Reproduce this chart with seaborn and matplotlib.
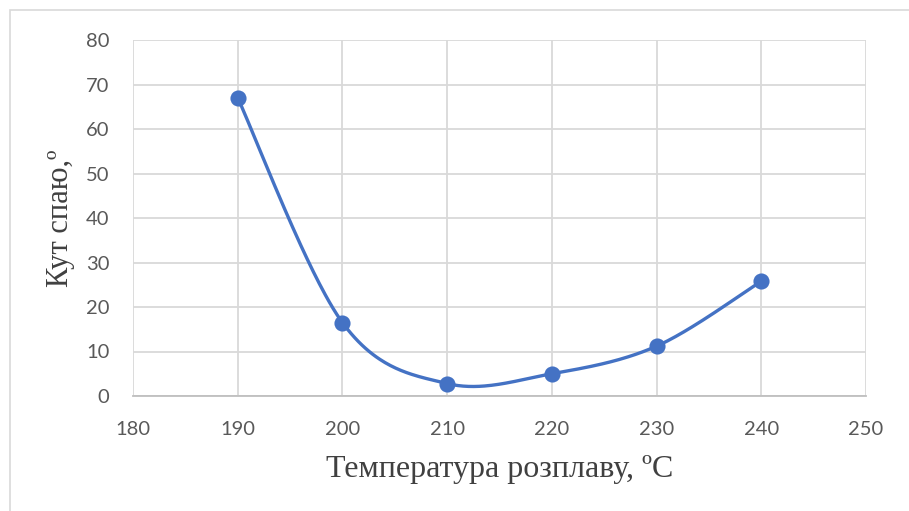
import numpy as np
import matplotlib
matplotlib.use("Agg")
import matplotlib.pyplot as plt
import seaborn as sns
from matplotlib.patches import Rectangle

# data
temperature = [190, 200, 210, 220, 230, 240]
angle = [67.0, 16.5, 2.8, 5.0, 11.2, 25.8]
x_ticks = [180, 190, 200, 210, 220, 230, 240, 250]
y_ticks = [0, 10, 20, 30, 40, 50, 60, 70, 80]
x_title = "Температура розплаву, ºC"
y_title = "Кут спаю,º"

LINE = "#4472C4"
GRID = "#D9D9D9"
TICK = "#595959"


def smooth(xs, ys, n=60):
    """Excel-like smoothed line (Catmull-Rom cubic Bezier) through the points."""
    p = np.column_stack([xs, ys]).astype(float)
    p_ext = np.vstack([p[0], p, p[-1]])
    out = []
    t = np.linspace(0, 1, n)[:, None]
    for i in range(1, len(p_ext) - 2):
        p0, p1, p2, p3 = p_ext[i - 1], p_ext[i], p_ext[i + 1], p_ext[i + 2]
        c1 = p1 + (p2 - p0) / 6.0
        c2 = p2 - (p3 - p1) / 6.0
        seg = ((1 - t) ** 3) * p1 + 3 * ((1 - t) ** 2) * t * c1 + 3 * (1 - t) * t ** 2 * c2 + t ** 3 * p2
        out.append(seg if i == 1 else seg[1:])
    s = np.vstack(out)
    return s[:, 0], s[:, 1]


sns.set_theme(style="white")
plt.rcParams["font.family"] = ["Lato", "DejaVu Sans"]

fig = plt.figure(figsize=(9.09, 5.11), dpi=100)
fig.patches.append(Rectangle((9.5 / 909, -0.05), 1.2, 1 - 10.5 / 511 + 0.05,
                             transform=fig.transFigure, fill=False,
                             edgecolor=GRID, linewidth=1.2, zorder=0))
ax = fig.add_axes([133 / 909, 1 - 396 / 511, (866 - 133) / 909, (396 - 40) / 511])

sx, sy = smooth(temperature, angle)
sns.lineplot(x=sx, y=sy, sort=False, color=LINE, linewidth=2.4, ax=ax, zorder=3)
sns.scatterplot(x=temperature, y=angle, color=LINE, s=135, edgecolor=LINE,
                linewidth=0, ax=ax, zorder=4)

ax.set_xlim(180, 250)
ax.set_ylim(0, 80)
ax.set_xticks(x_ticks)
ax.set_yticks(y_ticks)
ax.grid(True, color=GRID, linewidth=1.3)
ax.set_axisbelow(True)
for side in ["top", "right", "left"]:
    ax.spines[side].set_visible(False)
ax.spines["bottom"].set_color("#BFBFBF")
ax.spines["bottom"].set_linewidth(1.3)
ax.tick_params(axis="both", length=0, labelsize=14.5, colors=TICK)
ax.tick_params(axis="x", pad=18)
ax.tick_params(axis="y", pad=17)

ax.set_xlabel(x_title, family="Liberation Serif", fontsize=23, color="#404040", labelpad=12)
ax.set_ylabel(y_title, family="Liberation Serif", fontsize=22, color="#404040", labelpad=8)

fig.savefig("out.png", dpi=100)
